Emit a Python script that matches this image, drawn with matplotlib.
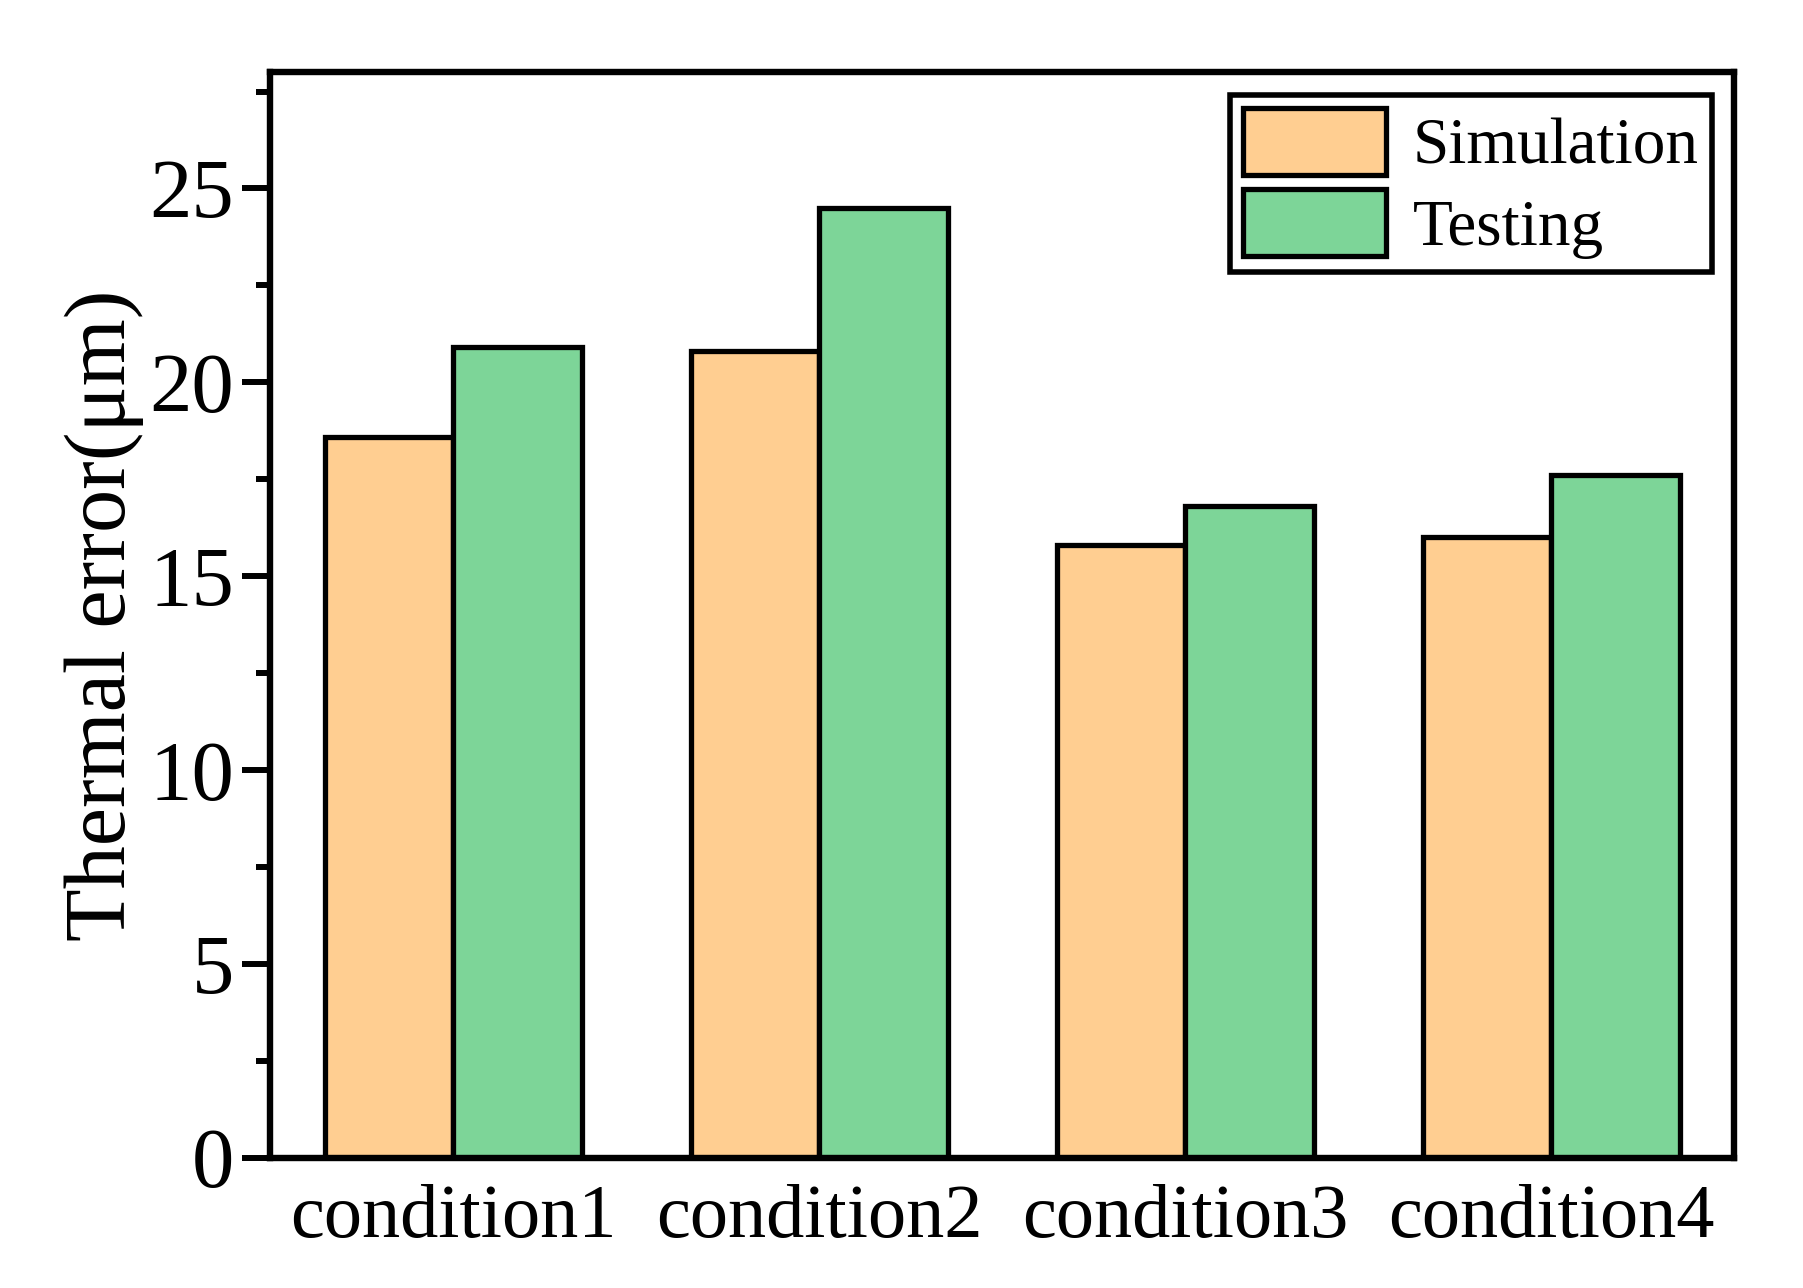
import numpy as np
import matplotlib
matplotlib.use("Agg")
import matplotlib.pyplot as plt
from matplotlib.ticker import MultipleLocator

# ---------- Data ----------
conditions = ["condition1", "condition2", "condition3", "condition4"]
simulation = [18.6, 20.8, 15.8, 16.0]
testing = [20.9, 24.5, 16.8, 17.6]

plt.rcParams["font.family"] = ["Liberation Serif", "DejaVu Serif"]

fig = plt.figure(figsize=(18.03, 12.88), dpi=100)
ax = fig.add_axes([0.150, 0.101, 0.812, 0.843])

x = np.arange(len(conditions))
w = 0.352
ax.bar(x - w / 2, simulation, w, color="#FFCE91", edgecolor="black",
       linewidth=3.8, label="Simulation")
ax.bar(x + w / 2, testing, w, color="#7DD598", edgecolor="black",
       linewidth=3.8, label="Testing")

ax.set_xlim(-0.5, 3.5)
ax.set_ylim(0, 28)
ax.set_xticks(x)
ax.set_xticklabels(conditions)
ax.yaxis.set_major_locator(MultipleLocator(5))
ax.yaxis.set_minor_locator(MultipleLocator(2.5))

ax.tick_params(axis="y", which="major", length=20, width=4.3, labelsize=61, pad=6)
ax.tick_params(axis="y", which="minor", length=10, width=4.3)
ax.tick_params(axis="x", which="both", length=0, labelsize=55, pad=19)

for s in ax.spines.values():
    s.set_linewidth(4.6)

ax.set_ylabel("Thermal error(μm)", fontsize=62, labelpad=4)

leg = ax.legend(loc="upper right", fontsize=47, frameon=True, fancybox=False,
                edgecolor="black", handlelength=2.2, handleheight=1.2,
                handletextpad=0.4, labelspacing=0.18, borderpad=0.2,
                borderaxespad=0.35)
leg.get_frame().set_linewidth(4)
leg.get_frame().set_alpha(1)

fig.savefig("out.png", dpi=100)
